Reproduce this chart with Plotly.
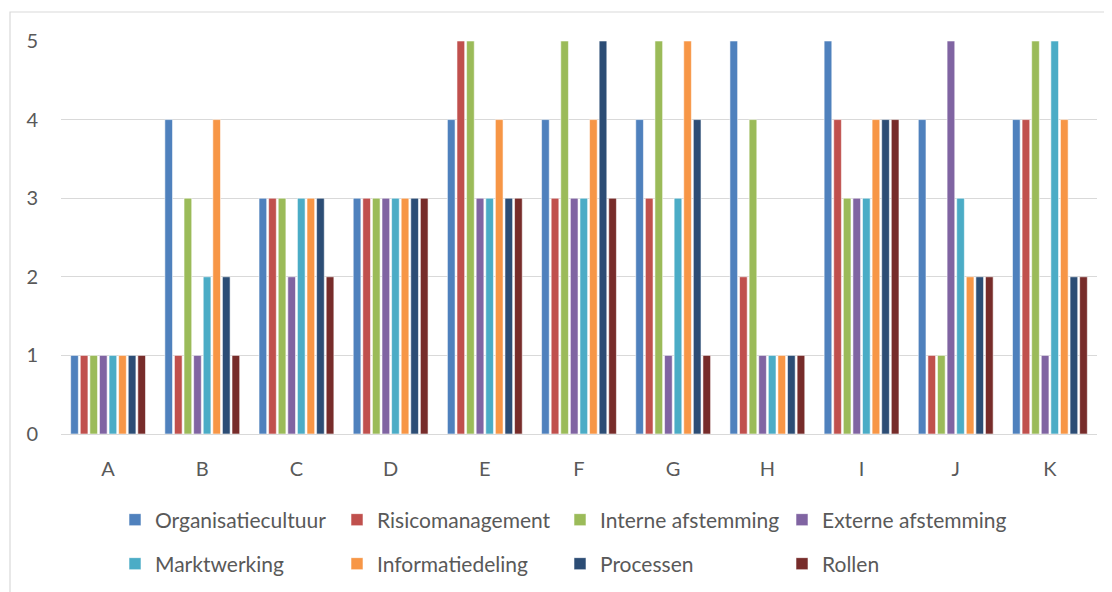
import plotly.graph_objects as go

categories = ["A", "B", "C", "D", "E", "F", "G", "H", "I", "J", "K"]
series_names = ["Organisatiecultuur", "Risicomanagement", "Interne afstemming", "Externe afstemming",
                "Marktwerking", "Informatiedeling", "Processen", "Rollen"]
organisatiecultuur = [1, 4, 3, 3, 4, 4, 4, 5, 5, 4, 4]
risicomanagement = [1, 1, 3, 3, 5, 3, 3, 2, 4, 1, 4]
interne_afstemming = [1, 3, 3, 3, 5, 5, 5, 4, 3, 1, 5]
externe_afstemming = [1, 1, 2, 3, 3, 3, 1, 1, 3, 5, 1]
marktwerking = [1, 2, 3, 3, 3, 3, 3, 1, 3, 3, 5]
informatiedeling = [1, 4, 3, 3, 4, 4, 5, 1, 4, 2, 4]
processen = [1, 2, 3, 3, 3, 5, 4, 1, 4, 2, 2]
rollen = [1, 1, 2, 3, 3, 3, 1, 1, 4, 2, 2]
series_values = [organisatiecultuur, risicomanagement, interne_afstemming, externe_afstemming,
                 marktwerking, informatiedeling, processen, rollen]
colors = ["#4F81BD", "#C0504D", "#9BBB59", "#8064A2", "#4BACC6", "#F79646", "#2C4D75", "#772C2A"]
y_ticks = [0, 1, 2, 3, 4, 5]

W, H = 1104, 584
ML, MR, MT, MB = 53, 15, 33, 158
PW, PH = W - ML - MR, H - MT - MB

# one legend per entry: 4 columns x 2 rows
legend_ids = ["legend"] + [f"legend{k}" for k in range(2, 9)]
col_fig_px = [107, 329, 552, 774]
row_mid_fig = [512, 556]

fig = go.Figure()
for i, (name, vals, col) in enumerate(zip(series_names, series_values, colors)):
    fig.add_trace(go.Bar(
        x=categories, y=vals, name=name,
        marker=dict(color=col, line=dict(color="rgba(255,255,255,0.7)", width=0.8)),
        legend=legend_ids[i],
    ))

font_family = "Lato, Carlito, Calibri, sans-serif"
text_color = "#595959"

legend_common = dict(
    orientation="v", xanchor="left", yanchor="middle",
    font=dict(family=font_family, size=21, color=text_color),
    bgcolor="rgba(0,0,0,0)", itemwidth=30, borderwidth=0,
)
layout_legends = {}
for i, lid in enumerate(legend_ids):
    c, r = i % 4, i // 4
    layout_legends[lid] = dict(legend_common, x=(col_fig_px[c] - ML) / PW,
                               y=1 - (row_mid_fig[r] - MT) / PH)

fig.update_layout(
    template="none",
    width=W, height=H,
    margin=dict(l=ML, r=MR, t=MT, b=MB, autoexpand=False),
    paper_bgcolor="white", plot_bgcolor="white",
    barmode="group", bargap=0.185, bargroupgap=0.2,
    font=dict(family=font_family, size=20, color=text_color),
    showlegend=True,
    xaxis=dict(showgrid=False, showline=False, ticks="", ticklabelstandoff=21, automargin=False,
               tickfont=dict(family=font_family, size=20, color=text_color)),
    yaxis=dict(range=[0, 5], tickvals=y_ticks, showgrid=True, gridcolor="#D9D9D9", gridwidth=1.3,
               zeroline=True, zerolinecolor="#D9D9D9", zerolinewidth=1.3, showline=False,
               ticks="", ticklabelstandoff=22, automargin=False,
               tickfont=dict(family=font_family, size=20, color=text_color)),
    **layout_legends,
)
fig.add_shape(type="rect", xref="paper", yref="paper",
              x0=(2 - ML) / PW, x1=1 + (MR + 20) / PW, y0=-(MB + 20) / PH, y1=1 + (MT - 4) / PH,
              line=dict(color="#D9D9D9", width=1.2), fillcolor="rgba(0,0,0,0)", layer="below")

fig.write_html("out.html")
